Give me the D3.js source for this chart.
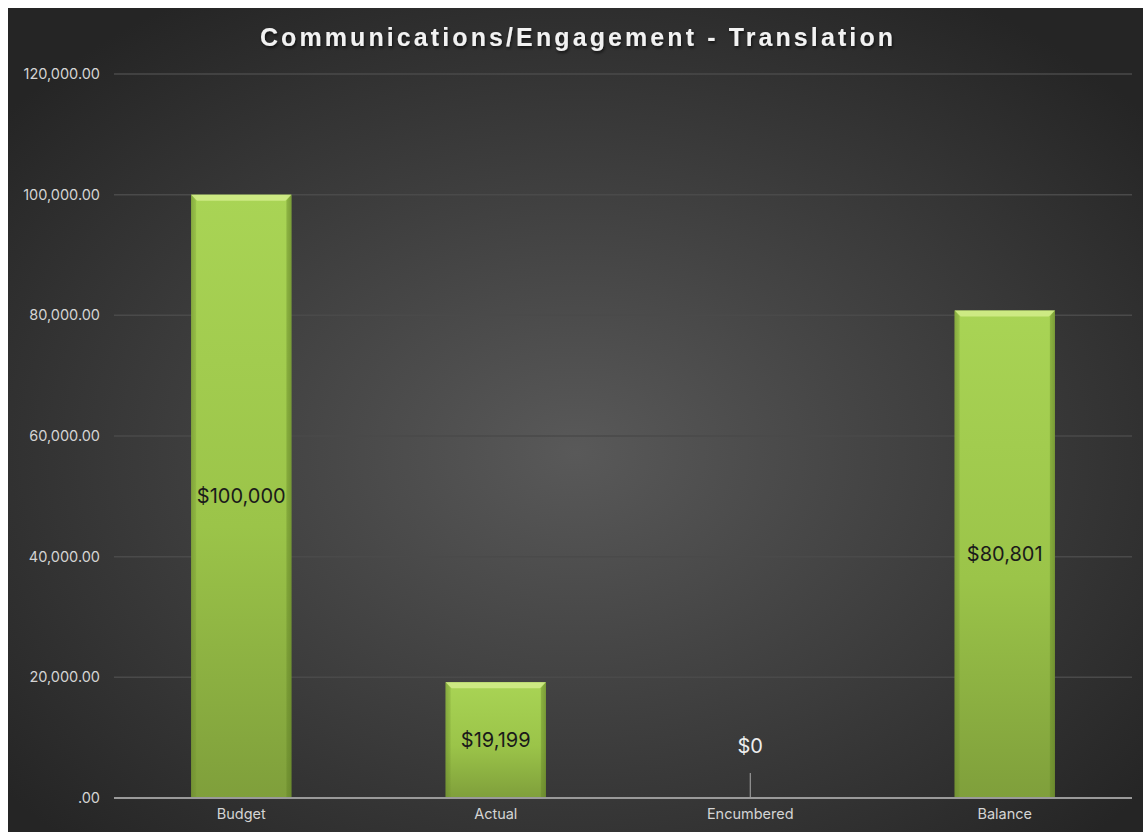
<!DOCTYPE html>
<html>
<head>
<meta charset="utf-8">
<script src="https://cdn.jsdelivr.net/npm/d3@7.9.0/dist/d3.min.js"></script>
<style>
  html, body { margin: 0; padding: 0; background: #fff; }
  svg { display: block; }
</style>
</head>
<body>
<svg id="chart" width="1143" height="832"></svg>
<script>
// chart data
const categories = ['Budget', 'Actual', 'Encumbered', 'Balance'];
const amounts = [100000, 19199, 0, 80801];
const valueLabels = ['$100,000', '$19,199', '$0', '$80,801'];
const yTicks = [0, 20000, 40000, 60000, 80000, 100000, 120000];
const titleText = 'Communications/Engagement - Translation';

const width = 1143, height = 832;
const margin = { top: 74, right: 11, bottom: 34, left: 114 };
const font = 'Inter, "Liberation Sans", Arial, sans-serif';

const svg = d3.select('#chart');
const defs = svg.append('defs');

// dark radial background
const bg = defs.append('radialGradient')
  .attr('id', 'bgGrad')
  .attr('cx', '50%').attr('cy', '54%').attr('r', '65%');
bg.append('stop').attr('offset', '0%').attr('stop-color', '#595959');
bg.append('stop').attr('offset', '100%').attr('stop-color', '#252525');

// bar fill, lighter at top
const barGrad = defs.append('linearGradient')
  .attr('id', 'barGrad')
  .attr('x1', 0).attr('y1', 0).attr('x2', 0).attr('y2', 1);
barGrad.append('stop').attr('offset', '0%').attr('stop-color', '#a9d455');
barGrad.append('stop').attr('offset', '55%').attr('stop-color', '#9bc449');
barGrad.append('stop').attr('offset', '100%').attr('stop-color', '#7f9f3b');

// side shading
const sideGrad = defs.append('linearGradient')
  .attr('id', 'sideGrad')
  .attr('x1', 0).attr('y1', 0).attr('x2', 1).attr('y2', 0);
sideGrad.append('stop').attr('offset', '0%').attr('stop-color', '#5d7a25').attr('stop-opacity', 0.35);
sideGrad.append('stop').attr('offset', '5%').attr('stop-color', '#5d7a25').attr('stop-opacity', 0);
sideGrad.append('stop').attr('offset', '95%').attr('stop-color', '#5d7a25').attr('stop-opacity', 0);
sideGrad.append('stop').attr('offset', '100%').attr('stop-color', '#5d7a25').attr('stop-opacity', 0.4);

const shadow = defs.append('filter').attr('id', 'txtShadow')
  .attr('x', '-10%').attr('y', '-30%').attr('width', '120%').attr('height', '160%');
shadow.append('feDropShadow')
  .attr('dx', 1).attr('dy', 2).attr('stdDeviation', 1.5)
  .attr('flood-color', '#000').attr('flood-opacity', 0.6);

svg.append('rect')
  .attr('x', 8).attr('y', 8)
  .attr('width', width - 8).attr('height', height - 8)
  .attr('fill', 'url(#bgGrad)');

const x = d3.scaleBand()
  .domain(categories)
  .range([margin.left, width - margin.right])
  .paddingInner(0.606)
  .paddingOuter(0.303);

const y = d3.scaleLinear()
  .domain([0, 120000])
  .range([height - margin.bottom, margin.top]);

// gridlines
svg.append('g')
  .selectAll('line')
  .data(yTicks.filter(d => d > 0))
  .join('line')
  .attr('x1', margin.left).attr('x2', width - margin.right)
  .attr('y1', d => y(d)).attr('y2', d => y(d))
  .attr('stroke', '#4a4a4a').attr('stroke-width', 1.5);

// y axis labels
const yAxis = d3.axisLeft(y)
  .tickValues(yTicks)
  .tickSize(0)
  .tickPadding(14)
  .tickFormat(d => d === 0 ? '.00' : d3.format(',.2f')(d));

svg.append('g')
  .attr('transform', `translate(${margin.left},0)`)
  .call(yAxis)
  .call(g => g.select('.domain').remove())
  .selectAll('text')
  .attr('fill', '#d4d4d4')
  .style('font-family', font)
  .style('font-size', '14.5px');

// bars
const bars = svg.append('g')
  .selectAll('g')
  .data(amounts.map((v, i) => ({ cat: categories[i], value: v, label: valueLabels[i] })))
  .join('g');

bars.filter(d => d.value > 0).each(function(d) {
  const g = d3.select(this);
  const x0 = x(d.cat), w = x.bandwidth();
  const y0 = y(d.value), h = y(0) - y(d.value);
  g.append('rect')
    .attr('x', x0).attr('y', y0).attr('width', w).attr('height', h)
    .attr('fill', 'url(#barGrad)');
  g.append('rect')
    .attr('x', x0).attr('y', y0).attr('width', w).attr('height', h)
    .attr('fill', 'url(#sideGrad)');
  // top bevel
  g.append('path')
    .attr('d', `M${x0},${y0}L${x0 + w},${y0}L${x0 + w - 6},${y0 + 6}L${x0 + 6},${y0 + 6}Z`)
    .attr('fill', '#d6ef8e').attr('opacity', 0.8);
  g.append('path')
    .attr('d', `M${x0},${y0}L${x0 + 5},${y0 + 6}L${x0 + 5},${y(0)}L${x0},${y(0)}Z`)
    .attr('fill', '#6f8e2e').attr('opacity', 0.25);
  g.append('path')
    .attr('d', `M${x0 + w},${y0}L${x0 + w - 5},${y0 + 6}L${x0 + w - 5},${y(0)}L${x0 + w},${y(0)}Z`)
    .attr('fill', '#5f7d25').attr('opacity', 0.35);
});

// value labels
bars.append('text')
  .attr('x', d => x(d.cat) + x.bandwidth() / 2)
  .attr('y', d => d.value > 0 ? (y(d.value) + y(0)) / 2 : y(0) - 52)
  .attr('dy', '0.35em')
  .attr('text-anchor', 'middle')
  .attr('fill', d => d.value > 0 ? '#1a1a1a' : '#eeeeee')
  .style('font-family', font)
  .style('font-size', '20px')
  .text(d => d.label);

// leader line for zero value
bars.filter(d => d.value === 0)
  .append('line')
  .attr('x1', d => x(d.cat) + x.bandwidth() / 2)
  .attr('x2', d => x(d.cat) + x.bandwidth() / 2)
  .attr('y1', y(0) - 25).attr('y2', y(0))
  .attr('stroke', '#aaaaaa').attr('stroke-width', 1);

// x axis
const xAxis = d3.axisBottom(x).tickSize(0).tickPadding(11);
svg.append('g')
  .attr('transform', `translate(0,${y(0)})`)
  .call(xAxis)
  .call(g => g.select('.domain')
    .attr('d', `M${margin.left},0H${width - margin.right}`)
    .attr('stroke', '#9a9a9a').attr('stroke-width', 2))
  .selectAll('text')
  .attr('fill', '#d4d4d4')
  .style('font-family', font)
  .style('font-size', '14.5px');

// title
svg.append('text')
  .attr('x', 578).attr('y', 46)
  .attr('text-anchor', 'middle')
  .attr('fill', '#f2f2f2')
  .attr('filter', 'url(#txtShadow)')
  .style('font-family', '"Liberation Sans", Arial, sans-serif')
  .style('font-weight', 'bold')
  .style('font-size', '25px')
  .style('letter-spacing', '3.1px')
  .text(titleText);
</script>
</body>
</html>
